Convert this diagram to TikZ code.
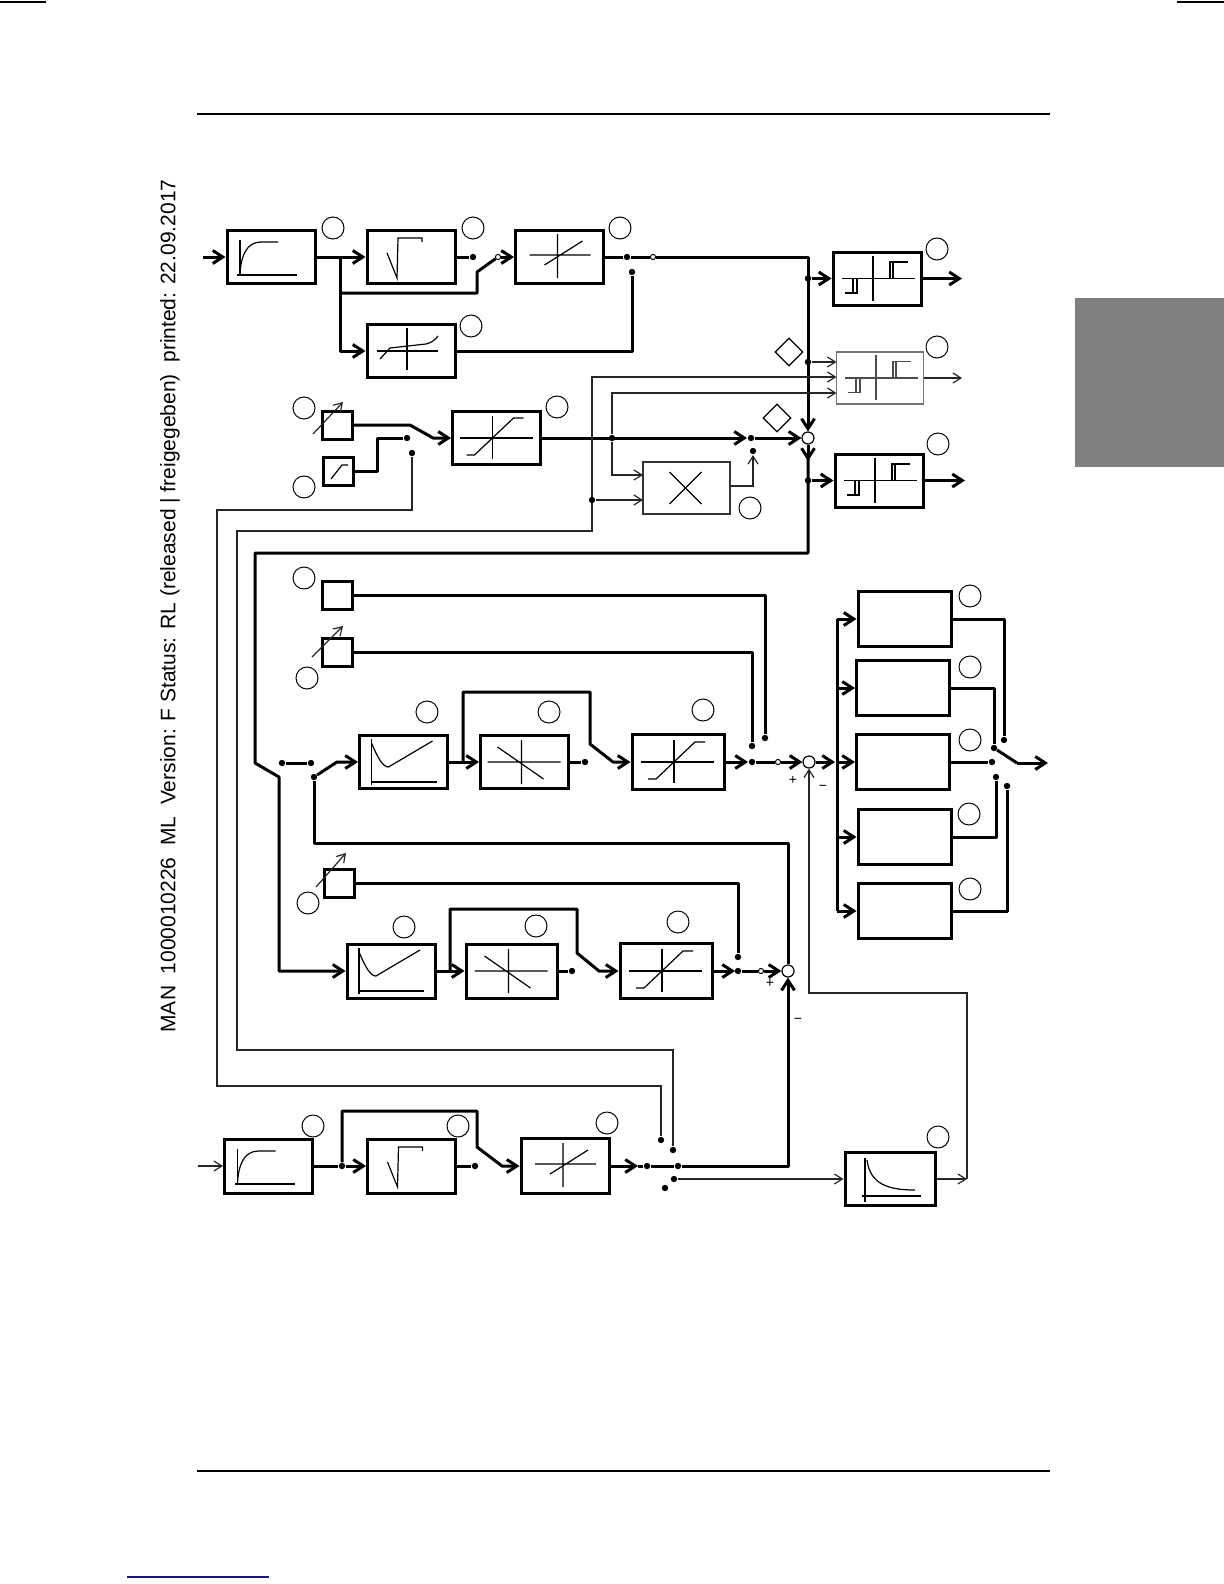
\documentclass[tikz,border=0pt]{standalone}
\usepackage{fontspec}
\setmainfont{Liberation Sans}
\usetikzlibrary{arrows.meta,shapes.geometric}
\tikzset{
  icn/.style={line width=0.6pt},
  pics/pto/.style={code={
    \draw[icn] (-31,-17) -- (-31,17) (-34,18) -- (26,18);
    \draw[icn] (-31,17) .. controls (-30,-2) and (-24,-15) .. (-10,-15) -- (7,-15);
  }},
  pics/sqr/.style={code={
    \draw[icn] (-24,-4) -- (-14,21) -- (-13,-19) -- (11,-19) -- (11,-15);
  }},
  pics/lin/.style={code={
    \draw[icn] (-30,-2) -- (31,-2) (-2,-23) -- (-2,21) (-15,8) -- (23,-16);
  }},
  pics/dzn/.style={code={
    \draw[icn] (-4,-23) -- (-4,19) (-34,0) -- (27,0);
    \draw[icn] (-31,8) -- (-21,-3) -- (15,-7) .. controls (20,-8) and (24,-11) .. (27,-15);
  }},
  pics/rel/.style={code={
    \draw[icn] (-4,-23) -- (-4,22) (-35,0) -- (38,0);
    \draw[icn] (-32,14.5) -- (-20,14.5) -- (-20,0) (-24,14.5) -- (-24,0);
    \draw[icn] (13,0) -- (13,-16.5) -- (31,-16.5) (16,0) -- (16,-16.5);
  }},
  pics/sat/.style={code={
    \draw[icn] (-37,0) -- (36,0) (-4,-22) -- (-4,21);
    \draw[icn] (-30,17) -- (-22,17) -- (17,-20) -- (27,-20);
  }},
  pics/neg/.style={code={
    \draw[icn] (-37,0) -- (36,0) (-3,-22) -- (-3,22) (-27,-15) -- (19,17);
  }},
  pics/ucv/.style={code={
    \draw[icn] (-32,-23) -- (-32,23) (-33,20) -- (33,20);
    \draw[icn] (-32,-19) .. controls (-26,-5) and (-21,5) .. (-15,5) -- (29,-21);
  }},
  pics/dec/.style={code={
    \draw[icn] (-25,-21) -- (-25,23) (-28,17) -- (31,17);
    \draw[icn] (-23,-19) .. controls (-20,5) and (-2,11) .. (25,11);
  }},
  pics/mul/.style={code={
    \draw[icn] (-17,-16) -- (15,16) (-17,16) -- (15,-16);
  }},
  pics/ramp/.style={code={
    \draw[icn] (-7.5,7.5) -- (3.5,-6.5) -- (9.5,-6.5);
  }},
}
\begin{document}
\begin{tikzpicture}[x=0.5pt,y=-0.5pt,
 sig/.style={line width=1.5pt, line join=round},
 thn/.style={line width=0.6pt, draw=black!85},
 ar/.style={-{Straight Barb[length=5pt,width=6.5pt]}},
 tar/.style={-{Straight Barb[length=4pt,width=5pt]}},
 blk/.style={draw, line width=1.5pt, minimum width=44pt, minimum height=26.5pt, inner sep=0pt},
 tblk/.style={draw=black!80, line width=0.6pt, minimum width=43.5pt, minimum height=26pt, inner sep=0pt},
 pbox/.style={draw, line width=1.5pt, minimum width=15pt, minimum height=14pt, inner sep=0pt},
 kbox/.style={draw, line width=1.5pt, minimum width=46.5pt, minimum height=27.5pt, inner sep=0pt},
 lbl/.style={circle, draw, line width=0.5pt, minimum size=11pt, inner sep=0pt},
 sumc/.style={circle, draw, line width=0.6pt, minimum size=6pt, inner sep=0pt, fill=white},
 dia/.style={diamond, draw, line width=0.6pt, minimum size=14pt, inner sep=0pt},
 dt/.style={circle, fill, inner sep=0pt, minimum size=3.2pt},
 odt/.style={circle, draw, fill=white, line width=0.5pt, inner sep=0pt, minimum size=2.6pt},
 pm/.style={font=\fontsize{7}{8}\selectfont, inner sep=0pt},
]
\useasboundingbox (0,0) rectangle (1224,1584);
% page furniture
\draw[line width=1pt] (0,2) -- (46,2);
\draw[line width=1pt] (1177,2) -- (1224,2);
\draw[line width=1pt] (197,114) -- (1050,114);
\draw[line width=1pt] (197,1471) -- (1050,1471);
\draw[line width=1.2pt, draw={rgb,255:red,20;green,20;blue,140}] (127,1577) -- (269,1577);
\fill[fill={rgb,255:red,128;green,128;blue,128}] (1075,298) rectangle (1224,467);
\node[rotate=90, font=\fontsize{10.5}{12}\selectfont, inner sep=0pt] (hdr) at (170,606)
  {MAN\ \ 1000010226\ \ ML\ \ Version: F Status: RL (released | freigegeben)\ \ printed: 22.09.2017};

% ---------- blocks ----------
\node[blk] (A1) at (271,257) {}; \pic at (A1.center) {pto};
\node[blk] (B1) at (411,257) {}; \pic at (B1.center) {sqr};
\node[blk] (C1) at (559.5,257) {}; \pic at (C1.center) {lin};
\node[blk] (D1) at (411,351) {}; \pic at (D1.center) {dzn};
\node[blk] (E1) at (877,278.5) {}; \pic at (E1.center) {rel};
\node[tblk, draw=black!55] (F1) at (880,378) {};
\begin{scope}[black!70] \pic at (F1.center) {rel}; \end{scope}
\node[blk] (H1) at (879,480.5) {}; \pic at (H1.center) {rel};
\node[blk] (G1) at (496.5,438) {}; \pic at (G1.center) {sat};
\node[tblk] (M) at (686.5,488) {}; \pic at (M.center) {mul};
\node[pbox] (P1) at (337,425) {};
\node[pbox] (P2) at (338.5,471.5) {}; \pic at (P2.center) {ramp};
\node[pbox] (P3) at (337,595.5) {};
\node[pbox] (P4) at (337,652) {};
\node[pbox] (P5) at (339,883) {};
\node[blk] (A2) at (403.5,762) {}; \pic at (A2.center) {ucv};
\node[blk] (B2) at (524.5,762) {}; \pic at (B2.center) {neg};
\node[blk, minimum width=46pt, minimum height=27.5pt] (C2) at (678,762) {}; \pic at (C2.center) {sat};
\node[blk, minimum height=27pt] (A3) at (391,971) {}; \pic at (A3.center) {ucv};
\node[blk, minimum width=45.5pt, minimum height=27pt] (B3) at (511.5,971) {}; \pic at (B3.center) {neg};
\node[blk, minimum width=46pt, minimum height=27.5pt] (C3) at (666,971) {}; \pic at (C3.center) {sat};
\node[blk, minimum height=27pt] (A4) at (268.5,1166) {}; \pic at (A4.center) {pto};
\node[blk, minimum height=27pt] (B4) at (411.5,1166) {}; \pic at (B4.center) {sqr};
\node[blk, minimum height=27.5pt] (C4) at (565,1166) {}; \pic at (C4.center) {lin};
\node[blk, minimum width=45pt] (J) at (890,1179) {}; \pic at (J.center) {dec};
\node[kbox] (K1) at (904.5,619) {};
\node[kbox] (K2) at (903,688) {};
\node[kbox] (K3) at (903,762) {};
\node[kbox] (K4) at (904.5,837) {};
\node[kbox] (K5) at (904.5,911) {};

% label circles
\foreach \n/\x/\y in {cA1/333/228, cB1/473/228, cC1/620/228, cD1/471/326, cE1/937/249,
  cF1/937/347, cH1/938/444, cM/750/508, cG1/557/407, cP1/304/408, cP2/304/487,
  cP3/304/578, cP4/307/678, cP5/308/903, cA2/427/712, cB2/549/712, cC2/703/710,
  cA3/404/927, cB3/536/926, cC3/678/922, cA4/313/1126, cB4/458/1126, cC4/607/1123,
  cJ/938/1137, cK1/970/596, cK2/970/667, cK3/970/740, cK4/969/814, cK5/970/889}
  \node[lbl] (\n) at (\x,\y) {};
\node[dia] (dm1) at (789,352) {};
\node[dia] (dm2) at (777,418) {};

% summing points
\node[sumc] (S1) at (808,438) {};
\node[sumc] (S2) at (809,762) {};
\node[sumc] (S3) at (788,971) {};

% ---------- top chain ----------
\coordinate (in1) at (203,257);
\draw[sig,ar] (in1) -- (A1.west);
\coordinate (j1) at (340,257);
\draw[sig,ar] (A1.east) -- (B1.west);
\draw[sig,ar] (j1) -- (340,351) -- (D1.west);
\node[odt] (sw1) at (498,257) {};
\draw[sig] (340,293) -- (477,293) -- (477,272) -- (sw1);
\draw[sig,ar] (sw1) -- (C1.west);
\node[dt] (b1o) at (473,257) {};
\draw[sig] (B1.east) -- (b1o);
\node[dt] (c1o) at (627,257) {};
\node[odt] (o1) at (653,257) {};
\draw[sig] (C1.east) -- (c1o) -- (o1);
\coordinate (t1) at (808,257);
\draw[sig,ar] (o1) -- (t1) -- (S1.north);
\node[dt] (d1o) at (632,272) {};
\draw[sig] (D1.east) -- (632,351) -- (d1o);
\node[dt] (jE) at (808,278.5) {};
\draw[sig,ar] (jE) -- (E1.west);
\node[dt] (jF) at (808,362) {};
\draw[thn,tar] (jF) -- (836.5,362);
\coordinate (oE) at (962,278.5);
\draw[sig,ar] (E1.east) -- (oE);
\coordinate (oF) at (962,378);
\draw[thn,tar] (F1.east) -- (oF);
\coordinate (oH) at (965,480.5);
\draw[sig,ar] (H1.east) -- (oH);
\draw[sig,ar] (S1.south) -- (808,461);
\node[dt] (jH) at (808,480.5) {};
\draw[sig,ar] (jH) -- (H1.west);
\draw[sig,ar] (808,458) -- (808,553) -- (255,553) -- (255,763) -- (279,777) -- (279,971) -- (A3.west);

% saturation / parameter switch
\draw[sig,ar] (P1.east) -- (410,425) -- (433,438) -- (G1.west);
\node[dt] (p2c) at (407,438) {};
\draw[sig] (P2.east) -- (377,471.5) -- (377,438) -- (p2c);
\draw[thn,tar] (313,434) -- (343,402);
\draw[thn,tar] (312,657) -- (343,626);
\draw[thn,tar] (316,887) -- (346,853);
\coordinate (g1a) at (747,438);
\draw[sig,ar] (G1.east) -- (g1a);
\node[dt] (g1d) at (751,438) {};
\draw[sig,ar] (g1d) -- (S1.west);
\node[dt] (jG) at (612,438) {};
\draw[thn,tar] (jG) -- (612,393) -- (836.5,393);
\draw[thn,tar] (jG) -- (612,475) -- (643,475);
\node[dt] (mo) at (753,451) {};
\draw[thn,tar] (M.east |- 730,486) -- (753,486) -- (753,455);

% thin long loops
\node[dt] (bc2) at (673,1150) {};
\draw[thn,tar] (bc2) -- (673,1050) -- (237,1050) -- (237,531) -- (592,531) -- (592,377) -- (836.5,377);
\node[dt] (jM) at (592,500) {};
\draw[thn,tar] (jM) -- (643,500);
\node[dt] (bc1) at (661,1140) {};
\node[dt] (p12c) at (412,453) {};
\draw[thn] (bc1) -- (661,1086) -- (217,1086) -- (217,510) -- (412,510) -- (p12c);

% ---------- middle chain ----------
\node[dt] (p3d) at (765,738) {};
\draw[sig] (P3.east) -- (765,595.5) -- (p3d);
\node[dt] (p4d) at (752,746) {};
\draw[sig] (P4.east) -- (752,652) -- (p4d);
\node[dt] (m1) at (282,763) {};
\node[dt] (m2) at (311,763) {};
\draw[sig] (m1) -- (m2);
\node[dt] (m3) at (314,777) {};
\draw[sig,ar] (m3) -- (337,762) -- (A2.west);
\draw[sig] (S3.north) -- (788,843) -- (314,843) -- (m3);
\draw[sig,ar] (A2.east) -- (B2.west);
\coordinate (jA2) at (463,762);
\draw[sig,ar] (jA2) -- (463,692) -- (590,692) -- (590,744) -- (613,762) -- (C2.west);
\node[dt] (b2o) at (585,762) {};
\draw[sig] (B2.east) -- (b2o);
\draw[sig,ar] (C2.east) -- (748,762);
\node[dt] (c2d) at (752,762) {};
\node[odt] (c2o) at (778,762) {};
\draw[sig] (c2d) -- (c2o);
\draw[sig,ar] (c2o) -- (S2.west);
\draw[sig,ar] (S2.east) -- (835,762);
\draw[sig] (837,619) -- (837,911);
\draw[sig,ar] (837,619) -- (K1.west);
\draw[sig,ar] (837,688) -- (K2.west);
\draw[sig,ar] (837,762) -- (K3.west);
\draw[sig,ar] (837,837) -- (K4.west);
\draw[sig,ar] (837,911) -- (K5.west);
\node[dt] (k1c) at (1004,740) {};
\draw[sig] (K1.east) -- (1004,619) -- (k1c);
\node[dt] (k2c) at (994,748) {};
\draw[sig] (K2.east) -- (994,688) -- (k2c);
\node[dt] (k3c) at (992,762) {};
\draw[sig] (K3.east) -- (k3c);
\node[dt] (k4c) at (996,777) {};
\draw[sig] (K4.east) -- (996,837) -- (k4c);
\node[dt] (k5c) at (1007,786) {};
\draw[sig] (K5.east) -- (1007,911) -- (k5c);
\coordinate (kb) at (1017,763);
\draw[sig] (k2c) -- (kb);
\coordinate (kout) at (1048,763);
\draw[sig,ar] (kb) -- (kout);
\node[pm] (pl2) at (793,780) {+};
\node[pm] (mi2) at (823,788) {−};

% ---------- lower chain ----------
\draw[sig,ar] (A3.east) -- (B3.west);
\coordinate (jA3) at (450,971);
\draw[sig,ar] (jA3) -- (450,909) -- (577,909) -- (577,953) -- (599,971) -- (C3.west);
\node[dt] (b3o) at (572,971) {};
\draw[sig] (B3.east) -- (b3o);
\draw[sig,ar] (C3.east) -- (735,971);
\node[dt] (c3d) at (738,971) {};
\node[odt] (c3o) at (761,971) {};
\draw[sig] (c3d) -- (c3o);
\draw[sig,ar] (c3o) -- (S3.west);
\node[dt] (p5d) at (738,957) {};
\draw[sig] (P5.east) -- (738,883) -- (p5d);
\node[pm] (pl3) at (770,983) {+};
\node[pm] (mi3) at (798,1021) {−};

% ---------- bottom chain ----------
\coordinate (in4) at (198,1166);
\draw[thn,tar] (in4) -- (A4.west);
\node[dt] (jA4) at (342,1166) {};
\draw[sig] (A4.east) -- (jA4);
\draw[sig,ar] (jA4) -- (B4.west);
\draw[sig,ar] (jA4) -- (342,1111) -- (477,1111) -- (477,1147) -- (502,1166) -- (C4.west);
\node[dt] (b4o) at (475,1166) {};
\draw[sig] (B4.east) -- (b4o);
\draw[sig,ar] (C4.east) -- (638,1166);
\node[dt] (c4a) at (647,1166) {};
\node[dt] (c4b) at (678,1166) {};
\draw[sig] (638,1166) -- (c4a) -- (c4b);
\draw[sig,ar] (c4b) -- (788,1166) -- (S3.south);
\node[dt] (bc3) at (674,1179) {};
\draw[thn,tar] (bc3) -- (J.west);
\node[dt] (bc4) at (665,1188) {};
\coordinate (jo) at (967,1179);
\draw[thn,tar] (J.east) -- (jo);
\draw[thn,tar] (jo) -- (967,993) -- (809,993) -- (S2.south);
\end{tikzpicture}
\end{document}
